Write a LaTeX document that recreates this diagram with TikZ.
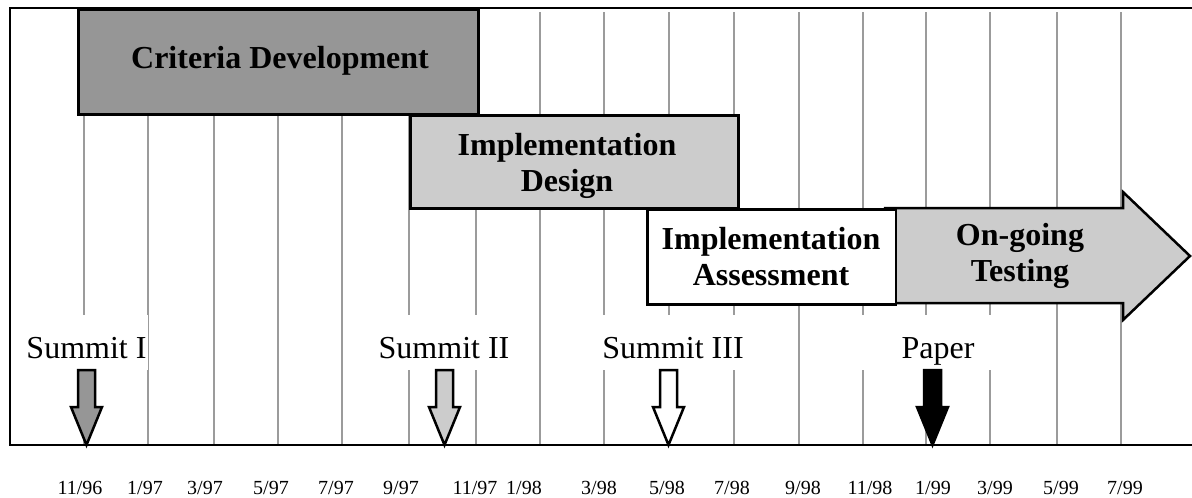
\documentclass[tikz,border=0pt]{standalone}
\usepackage{fontspec}
\setmainfont{Liberation Serif}
\definecolor{dgray}{RGB}{150,150,150}
\definecolor{lgray}{RGB}{204,204,204}
\definecolor{gridgray}{RGB}{155,155,155}
\newcommand\mstone[2]{%
  \draw[mile, fill=#2, shift={(#1,0)}] (-8.5,370) -- (8.5,370) -- (8.5,407) -- (15.5,407)
    -- (0,445) -- (-15.5,407) -- (-8.5,407) -- cycle;}
\begin{document}
\begin{tikzpicture}[x=1pt,y=-1pt,
  grid/.style={draw=gridgray, line width=2pt},
  frame/.style={draw=black, line width=2pt},
  box/.style={draw=black, line width=2.5pt, anchor=north west, inner sep=0pt},
  bold/.style={font=\fontsize{32}{36}\selectfont\bfseries, align=center, inner sep=0pt},
  mlabel/.style={font=\fontsize{32}{36}\selectfont, fill=white, inner xsep=1pt, inner ysep=0pt,
    text height=43pt, text depth=12pt},
  date/.style={font=\fontsize{20}{24}\selectfont, inner sep=0pt, anchor=base},
  mile/.style={draw=black, line width=2.5pt, line join=miter}
]
\useasboundingbox (0,0) rectangle (1192,498);
\fill[white] (0,0) rectangle (1192,498);

% grid lines
\foreach \gx in {84,148,214,278,342,409,476,540,604,669,734,799,863,926,990,1057,1121}
  \draw[grid] (\gx,12) -- (\gx,445);

% frame
\draw[frame] (1192,7.5) -- (10,7.5) -- (10,445) -- (1192,445);

% phase boxes
\node[box, fill=dgray, minimum width=400pt, minimum height=105pt] (crit) at (77,8) {};
\node[bold] (critt) at (280,60.5) {Criteria Development};

\node[box, fill=lgray, minimum width=328pt, minimum height=93pt] (design) at (409,114) {};
\node[bold] (designt) at (567,165.5) {Implementation\\Design};

\draw[mile, fill=lgray] (885,208) -- (1123,208) -- (1123,192) -- (1190,256)
  -- (1123,320) -- (1123,303) -- (885,303) -- cycle;
\node[bold] (testt) at (1020,255.5) {On-going\\Testing};

\node[box, fill=white, minimum width=248.5pt, minimum height=95pt] (assess) at (646,208) {};
\node[bold] (assesst) at (771,257) {Implementation\\Assessment};

% milestone labels
\node[mlabel, minimum width=120pt] (s1) at (86.5,342.5) {Summit I};
\node[mlabel, minimum width=140pt] (s2) at (444,342.5) {Summit II};
\node[mlabel, minimum width=150pt] (s3) at (673,342.5) {Summit III};
\node[mlabel, minimum width=160pt] (pp) at (938,342.5) {Paper};

% milestone arrows
\mstone{86.5}{dgray}
\mstone{444.5}{lgray}
\mstone{668.5}{white}
\mstone{932.5}{black}

% dates
\foreach \dx/\dt in {80/11\slash 96,145/1\slash 97,205/3\slash 97,271/5\slash 97,336/7\slash 97,
  401/9\slash 97,475/11\slash 97,524/1\slash 98,599/3\slash 98,667/5\slash 98,732/7\slash 98,
  803/9\slash 98,870/11\slash 98,933/1\slash 99,995/3\slash 99,1061/5\slash 99,1125/7\slash 99}
  \node[date] at (\dx,494) {\dt};
\end{tikzpicture}
\end{document}
